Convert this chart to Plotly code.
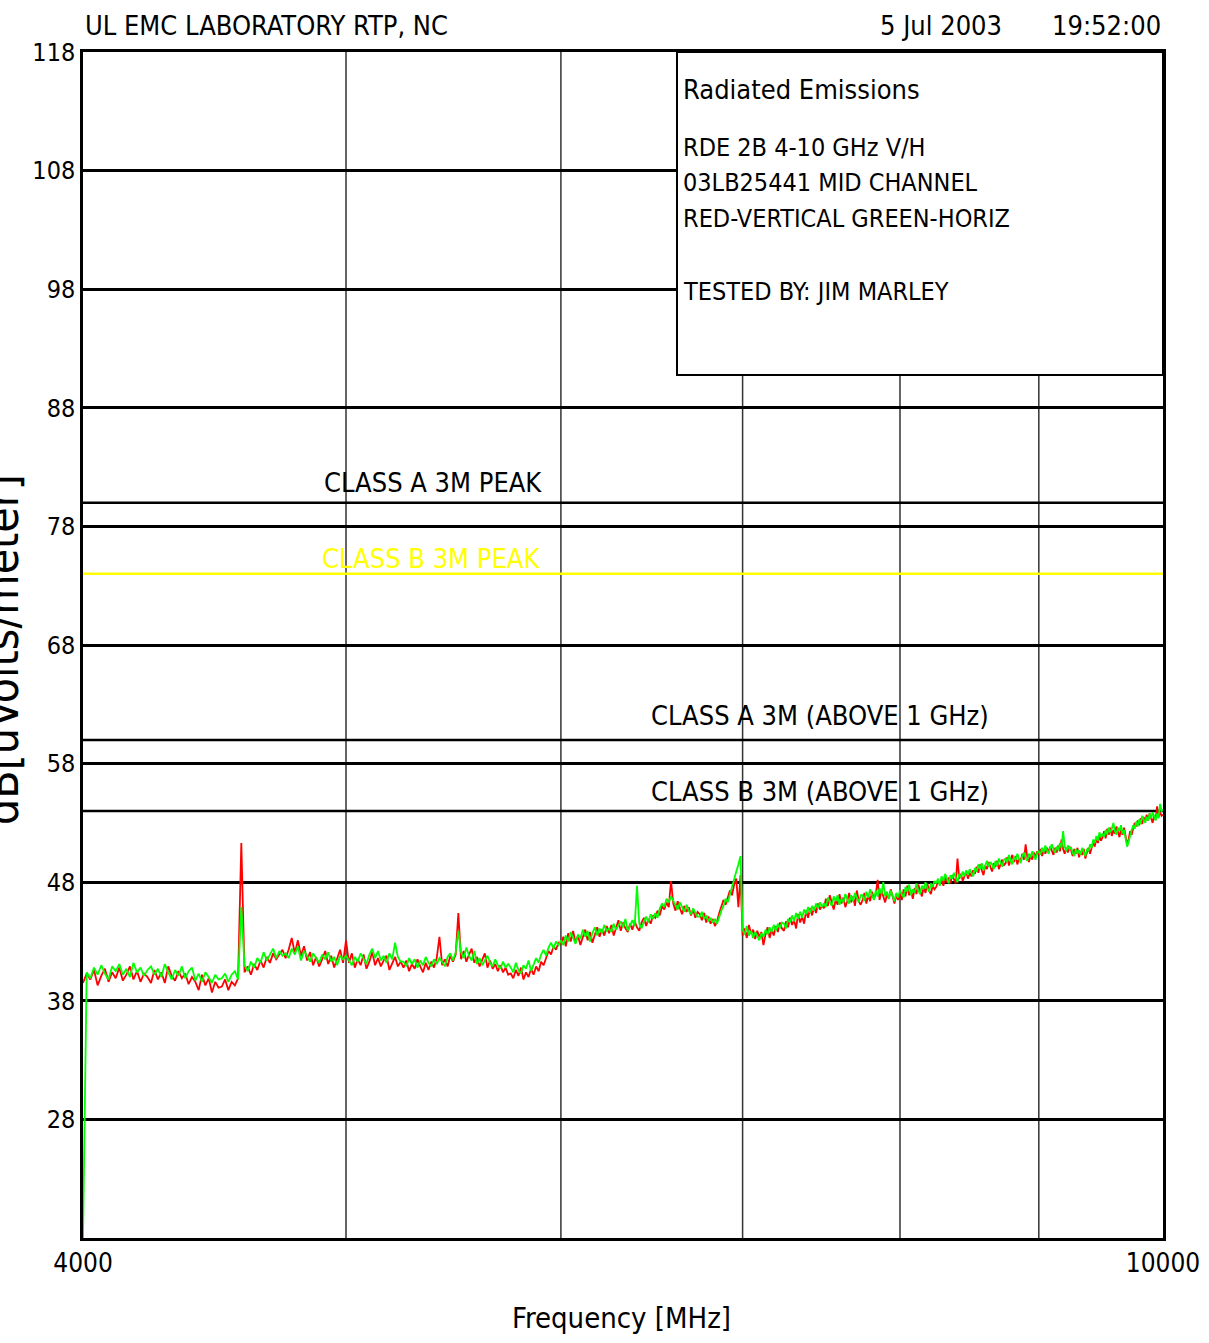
import numpy as np
import plotly.graph_objects as go

# Sweep definition (MHz)
FREQ_START = 4000
FREQ_STOP = 10000
SWEEP_POINTS = 481
freq_mhz = np.linspace(FREQ_START, FREQ_STOP, SWEEP_POINTS)

# Vertical polarisation trace, dB[uVolts/meter] (20 sweep points per row = 250 MHz)
vertical_dbuv = [
    39.5, 40.3, 39.8, 40.6, 39.3, 40.1, 40.7, 39.6, 40.4, 39.9, 40.8, 39.7, 40.2, 40.9, 39.8, 40.5, 39.6, 40.3, 40.0, 39.5,
    40.6, 39.8, 40.4, 39.5, 40.9, 40.1, 39.7, 40.5, 39.9, 40.3, 39.4, 40.0, 39.6, 38.9, 40.2, 39.3, 39.9, 38.7, 39.6, 39.1,
    39.2, 39.8, 38.9, 39.6, 39.3, 39.9, 51.3, 40.4, 40.9, 40.2, 41.1, 40.6, 41.4, 40.8, 41.7, 41.2, 42.0, 41.5, 41.9, 42.3,
    41.6, 42.3, 43.3, 42.0, 43.1, 41.8, 42.6, 41.4, 42.1, 41.0, 41.7, 40.9, 41.5, 42.2, 41.1, 41.8, 40.8, 41.6, 42.3, 41.2,
    43.1, 41.2, 42.0, 40.8, 41.5, 41.0, 41.9, 40.7, 41.3, 42.1, 41.0, 41.6, 40.9, 41.4, 41.8, 40.6, 41.2, 41.7, 40.9, 41.3,
    40.8, 41.4, 40.5, 41.1, 40.7, 41.5, 40.9, 40.4, 41.2, 40.6, 41.3, 40.8, 41.6, 43.4, 41.0, 41.5, 40.9, 41.8, 41.3, 41.9,
    45.4, 41.5, 42.2, 41.3, 41.9, 42.4, 41.2, 41.7, 40.9, 41.5, 42.0, 40.8, 41.4, 40.7, 41.1, 40.5, 41.0, 40.4, 40.8, 40.2,
    40.3, 39.9, 40.6, 40.1, 40.8, 39.8, 40.4, 40.0, 40.7, 40.2, 40.9, 40.5, 41.3, 41.0, 41.7, 42.2, 41.9, 42.6, 42.3, 42.9,
    42.8, 43.4, 42.6, 43.7, 43.0, 43.9, 42.9, 43.5, 42.7, 43.3, 44.0, 43.1, 43.8, 42.9, 43.6, 44.2, 43.4, 44.0, 43.5, 44.3,
    43.7, 44.4, 43.5, 44.2, 44.8, 43.9, 44.6, 44.1, 43.8, 44.5, 44.0, 44.7, 44.2, 43.9, 44.6, 45.0, 44.3, 44.9, 44.5, 45.2,
    45.0, 45.6, 45.2, 46.0, 45.7, 46.3, 45.9, 48.1, 46.2, 45.6, 46.4, 45.8, 45.3, 46.0, 45.5, 45.9, 45.2, 45.7, 45.0, 45.5,
    45.3, 44.8, 45.4, 44.6, 45.1, 44.5, 44.9, 44.3, 44.7, 45.4, 45.9, 46.5, 46.1, 46.8, 47.3, 46.9, 47.8, 48.3, 45.9, 48.6,
    43.5, 44.1, 43.3, 44.4, 43.7, 44.0, 43.2, 43.9, 43.4, 43.8, 42.7, 43.6, 44.2, 43.3, 44.0, 43.5, 44.3, 43.8, 44.6, 44.1,
    43.9, 44.7, 44.2, 45.0, 44.4, 44.8, 44.1, 45.3, 44.6, 45.1, 44.5, 45.6, 45.0, 45.8, 45.2, 45.9, 45.4, 46.2, 45.7, 46.0,
    45.8, 46.6, 46.0, 46.9, 46.3, 45.7, 46.5, 46.1, 47.0, 46.2, 46.7, 45.9, 46.4, 47.1, 46.3, 46.8, 46.0, 47.3, 46.4, 46.1,
    46.5, 47.1, 46.2, 46.9, 46.4, 47.2, 46.6, 47.0, 48.2, 46.5, 47.3, 46.8, 46.3, 47.0, 46.6, 47.4, 46.7, 46.2, 46.9, 46.5,
    47.0, 46.5, 47.4, 46.8, 47.7, 46.9, 47.3, 46.6, 47.5, 47.0, 47.8, 47.2, 46.8, 47.6, 47.1, 47.9, 47.3, 47.0, 47.7, 47.4,
    47.6, 48.1, 47.8, 48.3, 47.7, 48.5, 48.0, 48.4, 47.9, 48.6, 48.2, 47.9, 50.0, 48.3, 48.7, 48.1, 48.5, 48.9, 48.3, 48.8,
    48.5, 49.0, 48.7, 49.3, 48.8, 49.5, 49.0, 48.6, 49.4, 49.1, 49.7, 49.2, 48.9, 49.6, 49.3, 49.8, 49.1, 49.5, 49.9, 49.4,
    49.6, 50.1, 49.4, 49.9, 50.3, 49.7, 50.2, 49.5, 50.0, 49.8, 50.4, 49.9, 51.2, 50.1, 49.7, 50.3, 49.9, 50.5, 50.1, 50.6,
    50.3, 50.8, 50.2, 50.7, 50.4, 50.9, 50.5, 51.0, 50.6, 50.3, 50.9, 50.5, 51.1, 50.6, 51.6, 50.8, 50.4, 50.9, 50.5, 51.0,
    50.7, 50.2, 50.8, 50.4, 50.9, 50.1, 50.6, 50.3, 50.8, 50.0, 50.5, 50.9, 50.4, 51.0, 51.4, 51.0, 51.7, 51.3, 51.9, 51.5,
    51.8, 52.3, 51.7, 52.5, 52.0, 52.6, 51.9, 52.4, 52.1, 52.7, 52.2, 51.8, 52.5, 52.0, 52.6, 51.9, 51.2, 51.6, 52.3, 52.0,
    52.5, 53.0, 52.7, 53.2, 52.8, 53.4, 52.9, 53.5, 53.1, 53.7, 53.2, 53.8, 53.4, 53.0, 53.6, 53.3, 54.4, 53.5, 53.9, 53.6,
    53.7,
]

# Horizontal polarisation trace, dB[uVolts/meter]
horizontal_dbuv = [
    18.0, 40.4, 39.9, 40.8, 40.2, 41.0, 40.3, 39.8, 40.9, 40.5, 41.1, 40.2, 40.7, 40.0, 41.2, 40.4, 40.8, 40.1, 40.6, 40.9,
    40.2, 40.7, 40.0, 41.1, 40.4, 39.8, 40.6, 40.1, 40.9, 39.9, 40.5, 40.8, 39.7, 40.3, 39.6, 40.4, 40.0, 39.5, 40.2, 39.8,
    39.9, 40.3, 39.6, 40.2, 40.5, 39.8, 45.9, 41.0, 40.5, 41.3, 40.8, 41.6, 41.2, 42.1, 41.4, 41.9, 42.4, 41.6, 42.2, 41.8,
    42.0, 41.6, 42.4, 41.9, 42.6, 41.4, 42.2, 41.8, 41.3, 42.0, 41.6, 41.2, 41.9, 41.5, 42.1, 41.3, 41.7, 41.0, 41.8, 41.5,
    41.8, 41.4, 41.0, 41.7, 41.3, 42.0, 41.5, 41.1, 41.9, 42.4, 41.6, 42.2, 41.4, 41.8, 41.2, 42.0, 41.5, 42.9, 41.7, 41.3,
    41.3, 40.9, 41.6, 41.1, 41.5, 40.8, 41.4, 41.0, 41.7, 41.2, 40.9, 41.5, 41.1, 41.6, 41.3, 40.9, 41.7, 42.0, 41.4, 42.1,
    43.9, 42.1, 41.6, 42.5, 41.8, 41.4, 42.2, 41.1, 41.6, 41.0, 41.4, 41.8, 41.2, 40.9, 41.5, 41.0, 40.7, 41.3, 40.8, 41.1,
    40.8, 40.4, 41.2, 40.6, 40.3, 41.0, 40.7, 41.4, 40.5, 41.1, 41.6, 41.2, 41.9, 42.3, 41.8, 42.5, 42.9, 42.4, 43.0, 42.7,
    43.1, 42.7, 43.5, 43.0, 43.8, 43.3, 42.8, 43.6, 43.2, 44.0, 43.4, 43.9, 43.0, 43.7, 44.2, 43.5, 44.1, 43.7, 44.4, 43.9,
    44.1, 43.8, 44.5, 44.0, 44.3, 44.7, 44.2, 44.9, 43.9, 44.4, 44.8, 44.3, 47.7, 44.5, 44.1, 44.7, 45.1, 44.6, 45.3, 44.9,
    45.4, 45.0, 45.8, 46.2, 45.9, 46.6, 46.3, 46.8, 46.4, 46.0, 45.7, 46.3, 45.9, 45.5, 46.1, 45.6, 45.3, 45.8, 45.4, 45.1,
    45.1, 45.5, 44.9, 45.2, 44.7, 45.0, 44.6, 44.9, 44.5, 45.1, 45.6, 46.0, 46.6, 46.3, 47.0, 47.5, 48.2, 48.9, 49.5, 50.2,
    44.0, 43.6, 44.3, 43.5, 43.9, 43.3, 43.8, 43.4, 43.1, 43.7, 43.4, 44.0, 43.6, 44.2, 43.8, 44.4, 43.9, 44.5, 44.1, 44.6,
    44.5, 44.1, 44.9, 44.6, 45.2, 44.7, 45.4, 44.9, 45.5, 45.0, 45.7, 45.3, 45.9, 45.4, 46.0, 45.6, 46.2, 45.8, 46.3, 45.9,
    46.2, 45.9, 46.7, 46.3, 46.0, 46.8, 46.4, 46.9, 46.1, 46.6, 46.3, 47.0, 46.5, 46.2, 46.9, 46.4, 47.1, 46.6, 46.3, 46.9,
    46.9, 46.4, 47.2, 46.7, 47.4, 46.9, 46.5, 47.3, 46.8, 47.5, 47.0, 48.0, 46.8, 47.2, 46.6, 47.3, 46.9, 46.4, 47.1, 46.7,
    47.3, 47.0, 46.7, 47.6, 47.2, 47.8, 46.9, 47.4, 47.1, 47.9, 47.3, 47.0, 47.7, 47.4, 48.0, 47.5, 47.2, 47.9, 47.6, 48.1,
    47.9, 48.3, 47.7, 48.5, 48.1, 48.7, 48.2, 47.9, 48.6, 48.3, 48.8, 48.4, 48.0, 48.7, 48.4, 48.9, 48.5, 49.0, 48.6, 49.1,
    48.8, 48.5, 49.2, 48.9, 49.5, 49.1, 49.6, 49.0, 49.4, 49.8, 49.3, 49.7, 49.5, 49.1, 49.8, 49.4, 50.0, 49.6, 49.3, 49.9,
    50.0, 49.7, 50.3, 49.8, 49.5, 50.1, 49.9, 50.4, 50.0, 49.6, 50.2, 50.5, 50.0, 49.8, 50.4, 50.1, 50.6, 50.2, 49.9, 50.5,
    50.6, 50.3, 50.9, 50.5, 51.1, 50.7, 50.4, 50.9, 51.2, 50.8, 50.5, 51.0, 50.7, 51.3, 50.9, 52.3, 51.0, 50.6, 51.1, 50.8,
    50.9, 50.5, 50.2, 50.8, 50.4, 50.7, 50.3, 50.9, 50.5, 50.2, 50.8, 50.6, 51.2, 50.9, 51.6, 51.3, 51.9, 51.5, 52.2, 51.8,
    52.1, 51.8, 52.4, 52.0, 52.6, 52.2, 52.5, 53.0, 52.3, 52.0, 52.6, 52.3, 52.8, 52.1, 52.4, 51.7, 51.0, 51.4, 52.0, 52.4,
    52.8, 52.5, 53.1, 52.7, 53.3, 52.9, 53.6, 53.2, 53.0, 53.5, 53.2, 53.8, 53.4, 53.9, 53.5, 53.2, 53.8, 53.4, 54.6, 54.0,
    54.1,
]

# Axis scales
Y_MIN, Y_MAX = 18, 118
y_ticks = [28, 38, 48, 58, 68, 78, 88, 98, 108, 118]
x_tick_vals = [4000, 10000]
x_tick_text = ["4000", "10000"]
x_grid_freqs = [5000, 6000, 7000, 8000, 9000]

# Limit lines
limit_names = ["CLASS A 3M PEAK", "CLASS B 3M PEAK",
               "CLASS A 3M (ABOVE 1 GHz)", "CLASS B 3M (ABOVE 1 GHz)"]
limit_levels = [80, 74, 60, 54]
limit_colors = ["#000000", "#ffff00", "#000000", "#000000"]

# Header and info box text
header_left = "UL EMC LABORATORY RTP, NC"
header_date = "5 Jul 2003"
header_time = "19:52:00"
info_lines = ["Radiated Emissions", "RDE 2B 4-10 GHz V/H", "03LB25441 MID CHANNEL",
              "RED-VERTICAL GREEN-HORIZ", "TESTED BY: JIM MARLEY"]

FONT = "Liberation Sans Narrow, DejaVu Sans Condensed, Arial Narrow, DejaVu Sans Mono"

# Plot-area geometry in pixels (used for placing paper-referenced items)
W, H = 1209, 1343
L, R, T, B = 83, 1163, 52, 1238


def px(xp):
    return (xp - L) / (R - L)


def py(yp):
    return (B - yp) / (B - T)


fig = go.Figure()
fig.add_trace(go.Scatter(x=freq_mhz, y=vertical_dbuv, mode="lines",
                         line=dict(color="#ff0000", width=1.8), name="Vertical"))
fig.add_trace(go.Scatter(x=freq_mhz, y=horizontal_dbuv, mode="lines",
                         line=dict(color="#00ff00", width=1.8), name="Horizontal"))

shapes = []
# vertical grid
for f in x_grid_freqs:
    shapes.append(dict(type="line", xref="x", yref="paper", x0=f, x1=f, y0=0, y1=1,
                       line=dict(color="#333333", width=1.5), layer="between"))
# limit lines
for lvl, col in zip(limit_levels, limit_colors):
    shapes.append(dict(type="line", xref="paper", yref="y", x0=0, x1=1, y0=lvl, y1=lvl,
                       line=dict(color=col, width=2.5), layer="between"))
# info box
shapes.append(dict(type="rect", xref="paper", yref="paper",
                   x0=px(677), x1=1, y0=py(375), y1=1,
                   fillcolor="white", line=dict(color="black", width=2), layer="above"))


def label(text, x, y, size, color="black", anchor="left", angle=0):
    return dict(text=text, xref="paper", yref="paper", x=x, y=y,
                xanchor=anchor, yanchor="middle", showarrow=False, textangle=angle,
                font=dict(size=size, color=color, family=FONT))


annotations = [
    label(header_left, 0, py(25), 27),
    label(header_date, px(1004), py(25), 27, anchor="right"),
    label(header_time, 1, py(25), 27, anchor="right"),
]

info_y = [89, 147, 183, 219, 291]
info_size = [27, 25, 25, 25, 25]
for txt, yy, sz in zip(info_lines, info_y, info_size):
    annotations.append(label(txt, px(681), py(yy), sz))

limit_label_x = [433, 431, 820, 820]
limit_label_y = [483, 558, 716, 791]
for txt, col, xx, yy in zip(limit_names, limit_colors, limit_label_x, limit_label_y):
    annotations.append(label(txt, px(xx), py(yy), 27, color=col, anchor="center"))

annotations.append(label("Frequency [MHz]", px(621), py(1318), 29, anchor="center"))
annotations.append(label("dB[uVolts/meter]", px(2), py(650), 46, anchor="center", angle=-90))

fig.update_layout(
    width=W, height=H,
    margin=dict(l=L, r=W - R, t=T, b=H - B, pad=0, autoexpand=False),
    paper_bgcolor="white", plot_bgcolor="white",
    showlegend=False,
    shapes=shapes, annotations=annotations,
    font=dict(family=FONT, size=25, color="black"),
)
fig.update_xaxes(type="log", range=[np.log10(FREQ_START), np.log10(FREQ_STOP)],
                 tickmode="array", tickvals=x_tick_vals, ticktext=x_tick_text,
                 showgrid=False, zeroline=False, ticks="", automargin=False,
                 showline=True, mirror=True, linecolor="black", linewidth=2.5,
                 layer="below traces", tickfont=dict(size=26, family=FONT))
fig.update_yaxes(range=[Y_MIN, Y_MAX], tickmode="array", tickvals=y_ticks,
                 ticktext=[str(v) for v in y_ticks], automargin=False,
                 showgrid=True, gridcolor="black", gridwidth=2.5, zeroline=False, ticks="",
                 showline=True, mirror=True, linecolor="black", linewidth=2.5,
                 layer="below traces", tickfont=dict(size=25, family=FONT))

fig.write_html("out.html")
